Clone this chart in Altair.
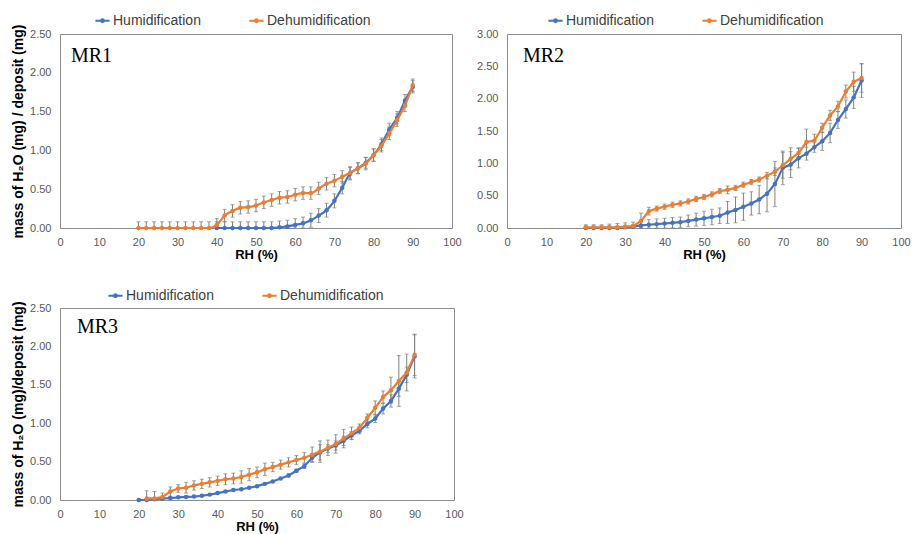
import altair as alt
import pandas as pd

# ---------------- data ----------------
RH = [20, 22, 24, 26, 28, 30, 32, 34, 36, 38, 40, 42, 44, 46, 48, 50, 52, 54,
      56, 58, 60, 62, 64, 66, 68, 70, 72, 74, 76, 78, 80, 82, 84, 86, 88, 90]
SERIES = ["Humidification", "Dehumidification"]
COLORS = ["#4472C4", "#ED7D31"]
X_TICKS = [0, 10, 20, 30, 40, 50, 60, 70, 80, 90, 100]

mr1_hum = [None, None, None, None, None, None, None, None, None, None,
           0.00, 0.00, 0.00, 0.00, 0.00, 0.00, 0.00, 0.00, 0.01, 0.02, 0.04, 0.06, 0.10,
           0.16, 0.23, 0.35, 0.52, 0.70, 0.77, 0.84, 0.94, 1.08, 1.27, 1.42, 1.64, 1.82]
mr1_deh = [0.00, 0.00, 0.00, 0.00, 0.00, 0.00, 0.00, 0.00, 0.00, 0.00,
           0.04, 0.16, 0.22, 0.26, 0.27, 0.29, 0.33, 0.36, 0.39, 0.40, 0.43, 0.45, 0.45,
           0.51, 0.57, 0.61, 0.66, 0.71, 0.77, 0.83, 0.94, 1.06, 1.22, 1.39, 1.58, 1.84]
mr1_hum_err = [0, 0, 0, 0, 0, 0, 0, 0, 0, 0,
               0.08, 0.08, 0.08, 0.08, 0.08, 0.08, 0.08, 0.08, 0.08, 0.08, 0.08, 0.08, 0.09,
               0.09, 0.09, 0.09, 0.08, 0.08, 0.07, 0.07, 0.08, 0.08, 0.08, 0.08, 0.08, 0.08]
mr1_deh_err = [0.08, 0.08, 0.08, 0.08, 0.08, 0.08, 0.08, 0.08, 0.08, 0.08,
               0.08, 0.08, 0.08, 0.08, 0.08, 0.08, 0.08, 0.08, 0.08, 0.08, 0.08, 0.08, 0.08,
               0.08, 0.08, 0.08, 0.08, 0.08, 0.07, 0.08, 0.08, 0.08, 0.08, 0.08, 0.08, 0.08]
mr1_yticks = [0.0, 0.5, 1.0, 1.5, 2.0, 2.5]

mr2_hum = [0.00, 0.00, 0.00, 0.00, 0.00, 0.01, 0.02, 0.04, 0.05, 0.06, 0.07, 0.08,
           0.09, 0.11, 0.13, 0.15, 0.17, 0.19, 0.24, 0.28, 0.33, 0.38, 0.44, 0.53,
           0.68, 0.93, 0.98, 1.08, 1.15, 1.25, 1.34, 1.47, 1.67, 1.84, 2.02, 2.28]
mr2_deh = [0.01, 0.01, 0.01, 0.01, 0.01, 0.02, 0.03, 0.11, 0.26, 0.30, 0.33, 0.36,
           0.38, 0.41, 0.45, 0.48, 0.52, 0.57, 0.59, 0.62, 0.67, 0.71, 0.75, 0.81,
           0.87, 0.97, 1.07, 1.16, 1.33, 1.35, 1.55, 1.74, 1.88, 2.11, 2.26, 2.32]
mr2_hum_err = [0.03, 0.03, 0.03, 0.03, 0.03, 0.03, 0.03, 0.08, 0.08, 0.08, 0.08, 0.08,
               0.08, 0.09, 0.10, 0.11, 0.12, 0.12, 0.17, 0.20, 0.21, 0.18, 0.22, 0.28,
               0.35, 0.26, 0.20, 0.15, 0.10, 0.08, 0.14, 0.15, 0.13, 0.14, 0.17, 0.26]
mr2_deh_err = [0.04, 0.04, 0.04, 0.05, 0.06, 0.06, 0.06, 0.12, 0.06, 0.04, 0.04, 0.04,
               0.04, 0.04, 0.04, 0.04, 0.04, 0.04, 0.06, 0.04, 0.04, 0.04, 0.04, 0.05,
               0.06, 0.20, 0.17, 0.08, 0.20, 0.10, 0.07, 0.08, 0.08, 0.10, 0.15, 0.22]
mr2_yticks = [0.0, 0.5, 1.0, 1.5, 2.0, 2.5, 3.0]

mr3_hum = [0.00, 0.00, 0.01, 0.02, 0.025, 0.035, 0.04, 0.045, 0.055, 0.07, 0.09, 0.11,
           0.13, 0.14, 0.16, 0.18, 0.21, 0.24, 0.28, 0.32, 0.38, 0.44, 0.55, 0.62,
           0.67, 0.71, 0.77, 0.84, 0.90, 0.99, 1.06, 1.19, 1.29, 1.45, 1.63, 1.87]
mr3_deh = [None, 0.02, 0.02, 0.04, 0.11, 0.15, 0.16, 0.19, 0.21, 0.23, 0.25, 0.27,
           0.28, 0.30, 0.33, 0.36, 0.40, 0.43, 0.46, 0.49, 0.52, 0.55, 0.59, 0.63,
           0.68, 0.73, 0.80, 0.87, 0.94, 1.07, 1.20, 1.34, 1.43, 1.55, 1.66, 1.89]
mr3_hum_err = [0.01, 0.01, 0.01, 0.01, 0.01, 0.01, 0.01, 0.01, 0.01, 0.01, 0.01, 0.01,
               0.01, 0.01, 0.01, 0.01, 0.01, 0.01, 0.01, 0.02, 0.02, 0.03, 0.05, 0.10,
               0.05, 0.06, 0.06, 0.05, 0.04, 0.05, 0.05, 0.07, 0.08, 0.10, 0.10, 0.28]
mr3_deh_err = [0.0, 0.10, 0.09, 0.05, 0.06, 0.05, 0.07, 0.06, 0.06, 0.06, 0.06, 0.07,
               0.07, 0.08, 0.08, 0.07, 0.08, 0.06, 0.06, 0.06, 0.06, 0.07, 0.10, 0.14,
               0.10, 0.12, 0.12, 0.08, 0.05, 0.05, 0.09, 0.08, 0.17, 0.33, 0.24, 0.27]
mr3_yticks = [0.0, 0.5, 1.0, 1.5, 2.0, 2.5]

FONT = "Liberation Sans"
LEGEND_PATH = ("M-1,0L1,0M0.2,0A0.2,0.2,0,1,1,-0.2,0A0.2,0.2,0,1,1,0.2,0")


def table(hum, deh, hum_err, deh_err):
    rows = []
    for series, vals, errs in ((SERIES[0], hum, hum_err), (SERIES[1], deh, deh_err)):
        for x, v, e in zip(RH, vals, errs):
            if v is None:
                continue
            rows.append({"RH": x, "series": series, "value": v,
                         "lo": max(v - e, 0.0), "hi": v + e, "err": e})
    return pd.DataFrame(rows)


def panel(name, hum, deh, hum_err, deh_err, yticks, ytitle, interp,
          w, h, legx, legy, labx, laby):
    df = table(hum, deh, hum_err, deh_err)
    base = alt.Chart(df)
    xenc = alt.X("RH:Q", scale=alt.Scale(domain=[0, 100], nice=False),
                 axis=alt.Axis(values=X_TICKS, title="RH (%)", labelPadding=8,
                               labelFlush=False, titlePadding=1, titleFontSize=13))
    if ytitle:
        yaxis = alt.Axis(values=yticks, format=".2f", labelPadding=9,
                         titlePadding=4, title=ytitle, titleFontSize=14)
    else:
        yaxis = alt.Axis(values=yticks, format=".2f", labelPadding=9, title=None)
    yscale = alt.Scale(domain=[yticks[0], yticks[-1]], nice=False)
    color = alt.Color(
        "series:N",
        scale=alt.Scale(domain=SERIES, range=COLORS),
        legend=alt.Legend(title=None, orient="none", direction="horizontal",
                          legendX=legx, legendY=legy,
                          symbolType=LEGEND_PATH, symbolSize=200,
                          symbolStrokeWidth=2, columnPadding=44, labelOffset=2,
                          labelFont=FONT, labelFontSize=14, labelColor="#404040"),
    )
    err = base.mark_errorbar(ticks={"size": 4}, color="#7f7f7f",
                             thickness=1).encode(
        x=xenc, y=alt.Y("lo:Q", scale=yscale, axis=yaxis), y2="hi:Q")
    lines = []
    for s in SERIES:
        lines.append(
            base.transform_filter(alt.datum.series == s)
            .mark_line(strokeWidth=2.2, interpolate=interp,
                       point=alt.OverlayMarkDef(filled=True, size=20))
            .encode(x=xenc, y=alt.Y("value:Q", scale=yscale, axis=yaxis),
                    color=color))
    lab = alt.Chart(pd.DataFrame({"t": [name]})).mark_text(
        font="Liberation Serif", fontSize=20, align="left", baseline="alphabetic",
        color="#000000").encode(text="t:N", x=alt.value(labx), y=alt.value(laby))
    return alt.layer(err, *lines, lab).properties(width=w, height=h)


p1 = panel("MR1", mr1_hum, mr1_deh, mr1_hum_err, mr1_deh_err, mr1_yticks,
           "mass of H₂O (mg) / deposit (mg)", "monotone", 392, 194, 34, -22, 11, 28)
p2 = panel("MR2", mr2_hum, mr2_deh, mr2_hum_err, mr2_deh_err, mr2_yticks,
           None, "linear", 394, 194, 40, -22, 16, 28)
p3 = panel("MR3", mr3_hum, mr3_deh, mr3_hum_err, mr3_deh_err, mr3_yticks,
           "mass of H₂O (mg)/deposit (mg)", "linear", 394, 192, 47, -21, 17, 25)

chart = alt.concat(
    p1, p2, p3, columns=2, spacing={"row": 24, "column": 12},
).resolve_scale(color="independent").properties(
    padding={"left": 3, "top": 3, "right": 0, "bottom": 0}
).configure_view(stroke="#8c8c8c", strokeWidth=1).configure_axis(
    grid=False, ticks=False, domain=False, labelColor="#595959", labelFont=FONT,
    labelFontSize=11, titleFont=FONT, titleFontWeight="bold", titleColor="#000000",
)

chart.save("out.html", embed_options={"renderer": "svg", "actions": False})
